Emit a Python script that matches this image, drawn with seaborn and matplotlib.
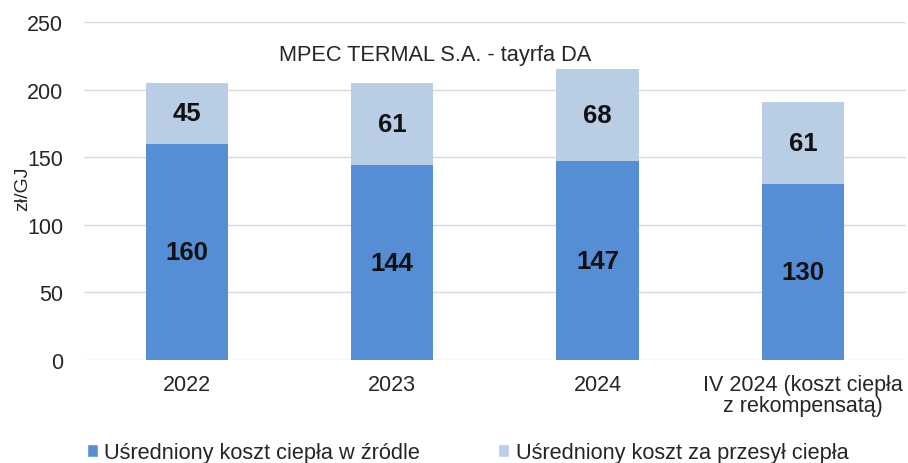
import matplotlib
matplotlib.use("Agg")
import matplotlib.pyplot as plt
import seaborn as sns
import pandas as pd
from matplotlib.patches import Patch

# dane z wykresu
kategorie = ["2022", "2023", "2024", "IV 2024 (koszt ciepła\nz rekompensatą)"]
koszt_zrodlo = [160, 144, 147, 130]
koszt_przesyl = [45, 61, 68, 61]
etykiety_legendy = ["Uśredniony koszt ciepła w źródle", "Uśredniony koszt za przesył ciepła"]
tytul = "MPEC TERMAL S.A. - tayrfa DA"

ciemny = "#558ED5"
jasny = "#B9CDE5"

sns.set_style("white")
plt.rcParams["font.family"] = ["Liberation Sans", "DejaVu Sans"]

df = pd.DataFrame({"kat": kategorie, "zrodlo": koszt_zrodlo, "przesyl": koszt_przesyl})
df["suma"] = df["zrodlo"] + df["przesyl"]

fig = plt.figure(figsize=(9.08, 4.64), dpi=100)
ax = fig.add_axes([0.0925, 0.222, 0.905, 0.728])

# najpierw suma (jasna), na nią część źródłowa (ciemna)
sns.barplot(data=df, x="kat", y="suma", color=jasny, width=0.4, ax=ax,
            saturation=1, linewidth=0)
sns.barplot(data=df, x="kat", y="zrodlo", color=ciemny, width=0.4, ax=ax,
            saturation=1, linewidth=0)

for i, r in df.iterrows():
    ax.text(i, r["zrodlo"] / 2, f"{r['zrodlo']}", ha="center", va="center",
            fontsize=18.5, fontweight="bold", color="#111111")
    ax.text(i, r["zrodlo"] + r["przesyl"] / 2, f"{r['przesyl']}", ha="center", va="center",
            fontsize=18.5, fontweight="bold", color="#111111")

ax.set_ylim(0, 250)
ax.set_yticks(range(0, 251, 50))
ax.set_xlim(-0.5, 3.5)
ax.yaxis.grid(True, color="#d9d9d9", linewidth=1)
ax.set_axisbelow(True)
for s in ax.spines.values():
    s.set_visible(False)
ax.tick_params(axis="y", length=0, pad=15, labelsize=15.5, labelcolor="#262626")
ax.tick_params(axis="x", length=0, pad=10, labelsize=15.5, labelcolor="#262626")
for t in ax.get_xticklabels():
    t.set_linespacing(1.0)
ax.set_xlabel("")
ax.set_ylabel("zł/GJ", fontsize=14, color="#262626")
ax.yaxis.set_label_coords(-0.064, 0.51)

ax.text(0.427, 0.905, tytul, transform=ax.transAxes, ha="center", va="center",
        fontsize=15.7, color="#262626")

uchwyty = [Patch(facecolor=ciemny), Patch(facecolor=jasny)]
fig.legend(uchwyty, etykiety_legendy, loc="center", bbox_to_anchor=(0.515, 0.022),
           ncol=2, frameon=False, fontsize=15.7, handlelength=0.5, handleheight=0.5,
           handletextpad=0.3, columnspacing=3.6, labelcolor="#262626")

fig.savefig("out.png", dpi=100)
